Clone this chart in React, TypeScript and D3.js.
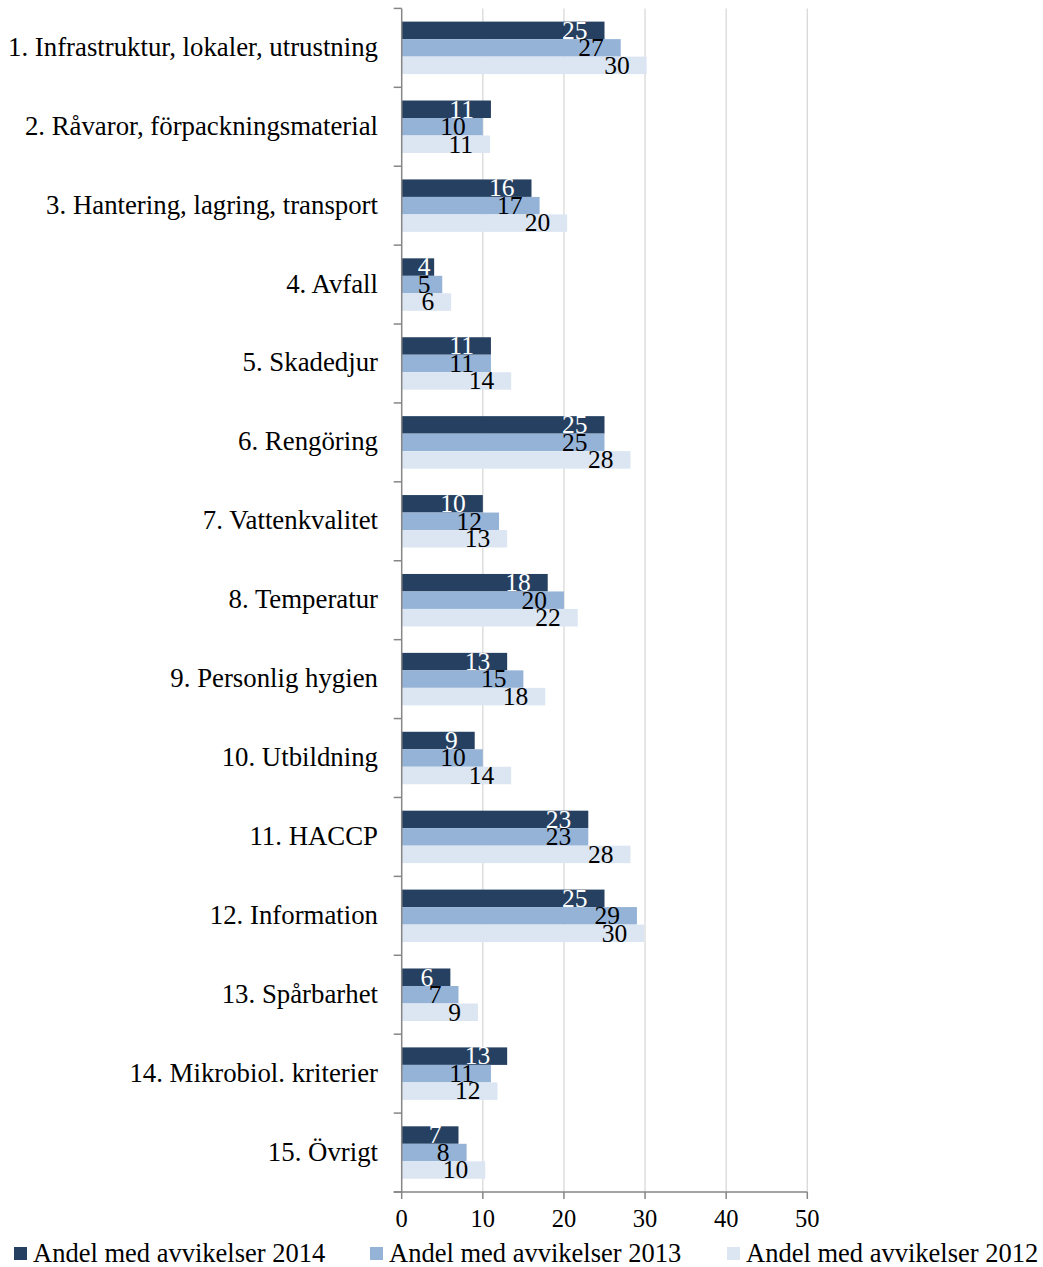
import React from "react";
import * as d3 from "d3";

const categories = [
  "1. Infrastruktur, lokaler, utrustning",
  "2. Råvaror, förpackningsmaterial",
  "3. Hantering, lagring, transport",
  "4. Avfall",
  "5. Skadedjur",
  "6. Rengöring",
  "7. Vattenkvalitet",
  "8. Temperatur",
  "9. Personlig hygien",
  "10. Utbildning",
  "11. HACCP",
  "12. Information",
  "13. Spårbarhet",
  "14. Mikrobiol. kriterier",
  "15. Övrigt",
];

const values2014 = [25, 11, 16, 4, 11, 25, 10, 18, 13, 9, 23, 25, 6, 13, 7];
const values2013 = [27, 10, 17, 5, 11, 25, 12, 20, 15, 10, 23, 29, 7, 11, 8];
const values2012 = [30.2, 10.9, 20.4, 6.1, 13.5, 28.2, 13.0, 21.7, 17.7, 13.5, 28.2, 29.9, 9.4, 11.8, 10.3];

const seriesNames = [
  "Andel med avvikelser 2014",
  "Andel med avvikelser 2013",
  "Andel med avvikelser 2012",
];
const seriesColors = ["#254061", "#95B3D7", "#DCE6F2"];
const labelColors = ["#FFFFFF", "#000000", "#000000"];
const xTicks = [0, 10, 20, 30, 40, 50];

const FONT = "'Liberation Serif', 'Times New Roman', serif";

export default function App() {
  const width = 1043;
  const height = 1267;
  const x = d3.scaleLinear().domain([0, 50]).range([401.7, 807.3]);
  const pad = 0.335;
  const y = d3
    .scaleBand<string>()
    .domain(categories)
    .range([8.4, 1192])
    .paddingInner(pad)
    .paddingOuter(pad / 2);
  const y1 = d3.scaleBand<number>().domain([0, 1, 2]).range([0, y.bandwidth()]);
  const step = y.step();
  const allSeries = [values2014, values2013, values2012];
  const top = 8.4;
  const bottom = 1192;
  const boundaries = d3.range(categories.length + 1).map((i) => top + i * step);

  return (
    <svg
      width={width}
      height={height}
      style={{ position: "absolute", left: 0, top: 0, background: "#fff" }}
      fontFamily={FONT}
    >
      {xTicks.slice(1).map((t) => (
        <line key={"g" + t} x1={x(t)} x2={x(t)} y1={top} y2={bottom} stroke="#D9D9D9" strokeWidth={1.3} />
      ))}
      {categories.map((c, i) => (
        <g key={c}>
          {allSeries.map((s, k) => {
            const yy = (y(c) as number) + (y1(k) as number);
            return (
              <rect
                key={k}
                x={x(0)}
                y={yy}
                width={x(s[i]) - x(0)}
                height={y1.bandwidth()}
                fill={seriesColors[k]}
              />
            );
          })}
        </g>
      ))}
      {categories.map((c, i) => (
        <g key={"l" + c}>
          {allSeries.map((s, k) => {
            const yy = (y(c) as number) + (y1(k) as number) + y1.bandwidth() / 2;
            const txt = String(Math.round(s[i]));
            const tw = txt.length * 12.8;
            const xe = Math.max(x(s[i]) - 17, x(0) + 16 + tw);
            return (
              <text
                key={k}
                x={xe}
                y={yy + 8.3}
                textAnchor="end"
                fontSize={25.5}
                fill={labelColors[k]}
              >
                {txt}
              </text>
            );
          })}
        </g>
      ))}
      <line x1={x(0)} x2={x(0)} y1={top} y2={bottom} stroke="#868686" strokeWidth={1.5} />
      {boundaries.map((b, i) => (
        <line key={"yt" + i} x1={x(0) - 8} x2={x(0)} y1={b} y2={b} stroke="#868686" strokeWidth={1.5} />
      ))}
      {categories.map((c) => (
        <text
          key={"c" + c}
          x={378}
          y={(y(c) as number) + y.bandwidth() / 2 + 8}
          textAnchor="end"
          fontSize={26.8}
          fill="#000"
        >
          {c}
        </text>
      ))}
      <line x1={x(0) - 8} x2={x(50)} y1={bottom} y2={bottom} stroke="#868686" strokeWidth={1.5} />
      {xTicks.map((t) => (
        <g key={"xt" + t}>
          <line x1={x(t)} x2={x(t)} y1={bottom} y2={bottom + 7} stroke="#868686" strokeWidth={1.5} />
          <text x={x(t)} y={1227} textAnchor="middle" fontSize={24.5} fill="#000">
            {t}
          </text>
        </g>
      ))}
      {seriesNames.map((n, k) => {
        const lx = [14, 370, 727][k];
        return (
          <g key={"lg" + k}>
            <rect x={lx} y={1247} width={13} height={13} fill={seriesColors[k]} />
            <text x={lx + 19} y={1261.5} fontSize={26.5} fill="#000">
              {n}
            </text>
          </g>
        );
      })}
    </svg>
  );
}
